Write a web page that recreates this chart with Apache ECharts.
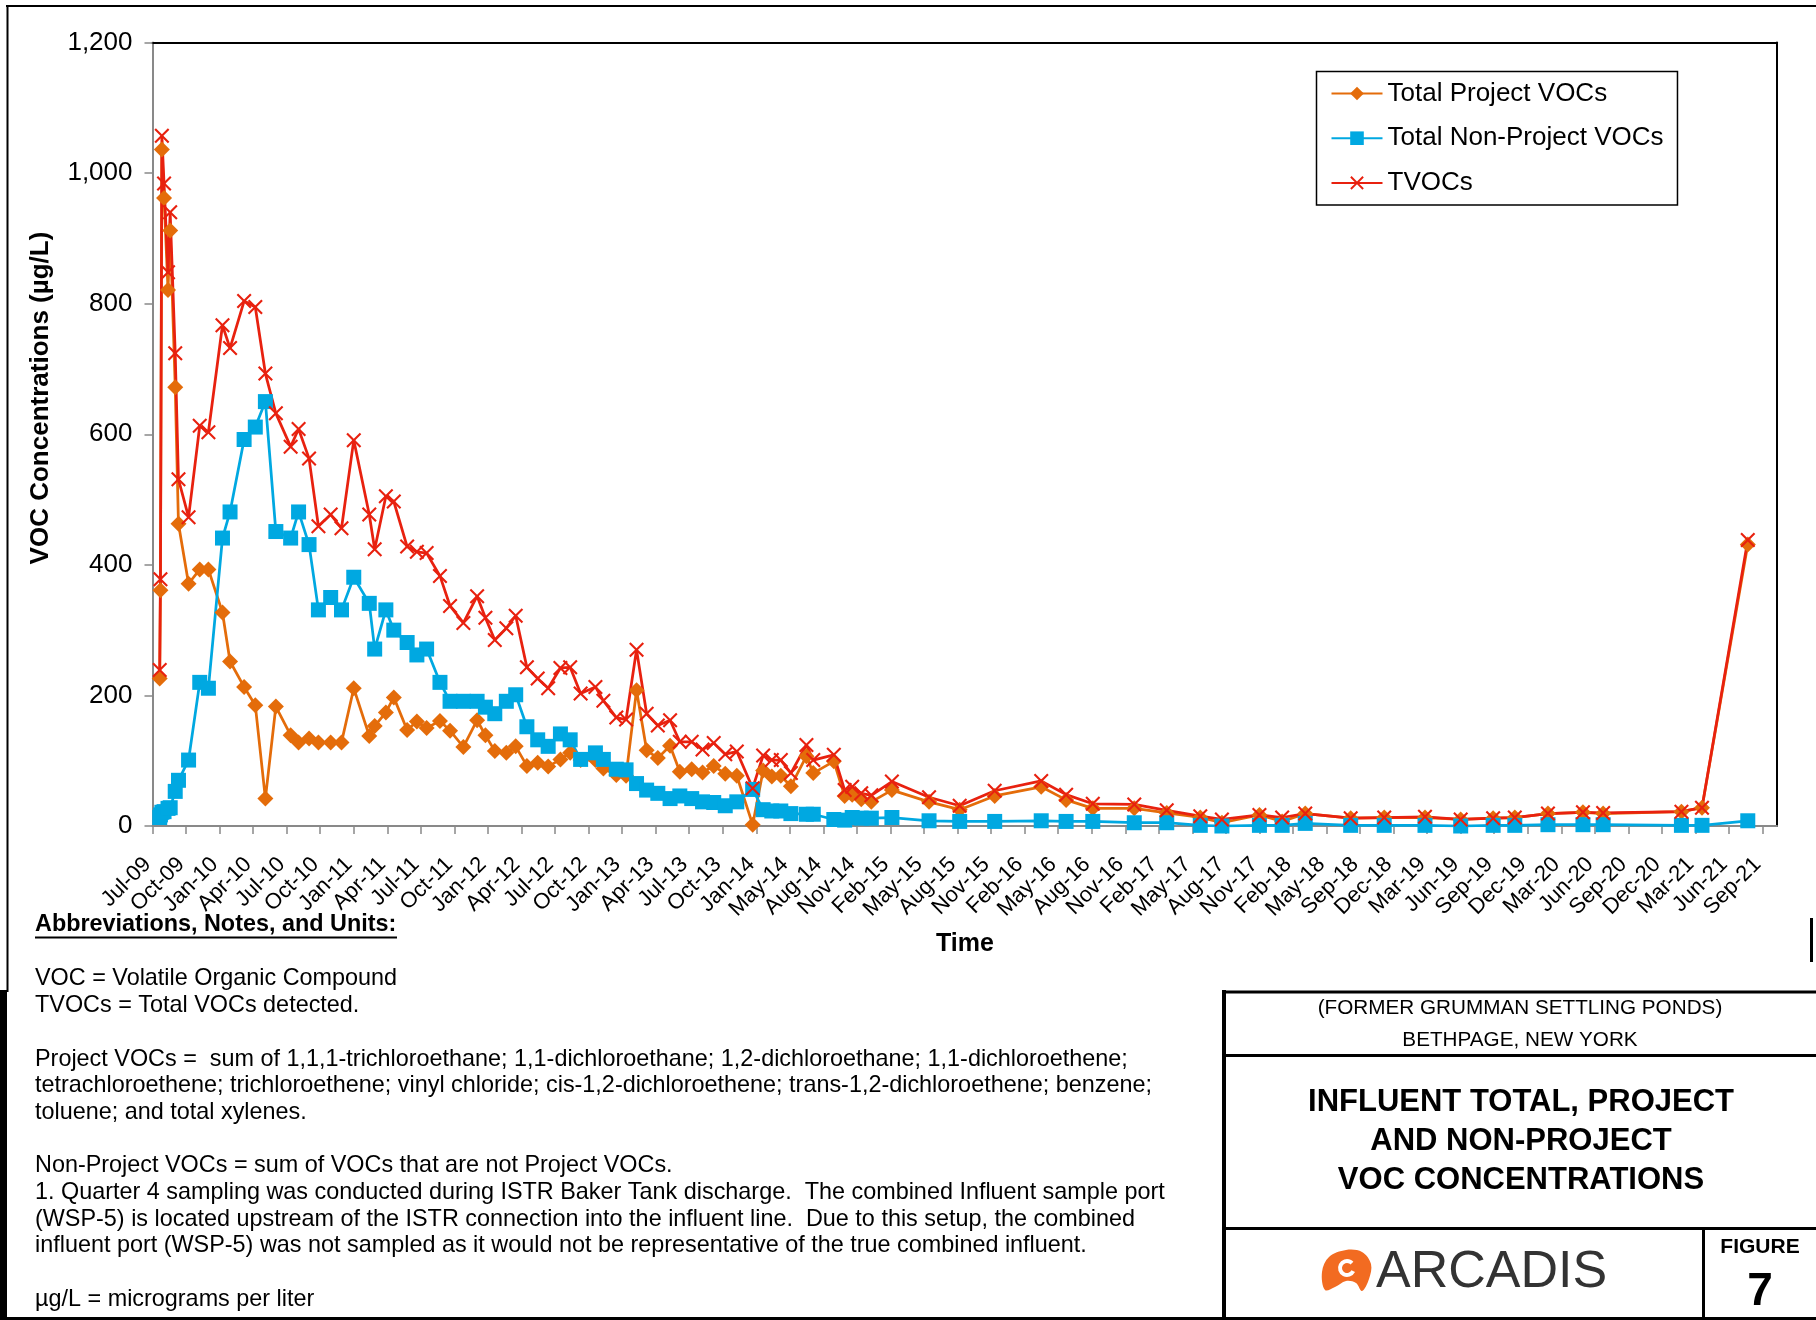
<!DOCTYPE html>
<html>
<head>
<meta charset="utf-8">
<title>Influent Total, Project and Non-Project VOC Concentrations</title>
<script src="https://cdn.jsdelivr.net/npm/echarts@6/dist/echarts.min.js"></script>
<style>
  html, body { margin: 0; padding: 0; background: #fff; }
  #chart { width: 1816px; height: 1320px; }
</style>
</head>
<body>
<div id="chart"></div>
<script>
// sample dates
const DATES = [
  '2009-07-22','2009-07-24','2009-07-28','2009-08-03','2009-08-14','2009-08-20','2009-09-03','2009-09-12','2009-10-10','2009-11-10','2009-12-04',
  '2010-01-12','2010-02-02','2010-03-13','2010-04-13','2010-05-11','2010-06-09','2010-07-20','2010-08-11','2010-09-09','2010-10-05','2010-11-08','2010-12-08',
  '2011-01-11','2011-02-23','2011-03-10','2011-04-10','2011-05-02','2011-06-08','2011-07-05','2011-08-01','2011-09-07','2011-10-05','2011-11-11','2011-12-19',
  '2012-01-11','2012-02-06','2012-03-09','2012-04-04','2012-05-05','2012-06-04','2012-07-03','2012-08-06','2012-09-02','2012-10-01','2012-11-11','2012-12-03',
  '2013-01-08','2013-02-04','2013-03-05','2013-04-02','2013-05-03','2013-06-06','2013-07-03','2013-08-05','2013-09-04','2013-10-05','2013-11-06','2013-12-08',
  '2014-01-21','2014-02-19','2014-03-15','2014-04-09','2014-05-07','2014-06-19','2014-07-08','2014-09-03','2014-10-03','2014-10-24','2014-11-18','2014-12-16',
  '2015-02-11','2015-05-25','2015-08-18','2015-11-23',
  '2016-03-31','2016-06-08','2016-08-21','2016-12-14',
  '2017-03-14','2017-06-15','2017-08-14','2017-11-26',
  '2018-01-28','2018-04-02','2018-08-06','2018-11-07',
  '2019-02-28','2019-06-07','2019-09-05','2019-11-04',
  '2020-02-04','2020-05-11','2020-07-06',
  '2021-02-08','2021-04-06','2021-08-11'
];

// ug/L
const PROJECT_VOCS = [
  226, 361, 1036, 962, 821, 912, 672, 463, 371, 393, 393,
  327, 252, 213, 185, 42, 183, 139, 128, 134, 128, 128, 128,
  211, 138, 153, 174, 197, 147, 160, 150, 161, 146, 121, 162,
  139, 115, 112, 122, 92, 97, 91, 102, 112, 101, 101, 88,
  78, 77, 208, 116, 104, 123, 83, 87, 82, 92, 80, 77,
  2, 85, 76, 77, 61, 107, 81, 99, 46, 48, 41, 37,
  55, 37, 25, 46,
  60, 40, 27, 27,
  20, 13, 5, 17,
  7, 19, 12, 13,
  13, 10, 12, 13,
  19, 21, 19,
  22, 28, 431
];

const NON_PROJECT_VOCS = [
  13, 17, 21, 22, 27, 28, 53, 70, 101, 220, 211,
  441, 481, 592, 611, 650, 451, 441, 481, 431, 331, 350, 331,
  381, 341, 271, 331, 300, 281, 262, 271, 220, 191, 191, 191,
  182, 172, 191, 201, 152, 132, 122, 141, 132, 102, 112, 102,
  87, 86, 65, 55, 50, 42, 46, 42, 37, 36, 31, 37,
  56, 25, 23, 23, 19, 18, 18, 10, 9, 13, 12, 12,
  13, 8, 7, 7,
  8, 7, 7, 5,
  5, 1, 0, 1,
  1, 4, 1, 1,
  1, 0, 1, 1,
  2, 2, 2,
  1, 1, 8
];

const TVOCS = [
  239, 378, 1057, 984, 848, 940, 724, 531, 473, 613, 603,
  767, 732, 804, 795, 693, 632, 581, 608, 563, 459, 477, 456,
  591, 477, 424, 505, 497, 428, 420, 418, 383, 337, 311, 352,
  319, 285, 303, 322, 243, 226, 211, 242, 243, 203, 213, 192,
  166, 163, 270, 172, 154, 162, 129, 129, 117, 127, 110, 114,
  58, 108, 101, 101, 81, 124, 101, 109, 55, 60, 50, 47,
  68, 44, 31, 54,
  69, 48, 34, 33,
  24, 15, 10, 17,
  13, 19, 12, 13,
  14, 10, 12, 13,
  19, 21, 20,
  22, 28, 438
];

// x axis: one tick every 93 days from the axis start
const X_LABELS = [
  'Jul-09','Oct-09','Jan-10','Apr-10','Jul-10','Oct-10','Jan-11','Apr-11','Jul-11','Oct-11',
  'Jan-12','Apr-12','Jul-12','Oct-12','Jan-13','Apr-13','Jul-13','Oct-13','Jan-14','May-14',
  'Aug-14','Nov-14','Feb-15','May-15','Aug-15','Nov-15','Feb-16','May-16','Aug-16','Nov-16',
  'Feb-17','May-17','Aug-17','Nov-17','Feb-18','May-18','Sep-18','Dec-18','Mar-19','Jun-19',
  'Sep-19','Dec-19','Mar-20','Jun-20','Sep-20','Dec-20','Mar-21','Jun-21','Sep-21'
];
const AXIS_START = '2009-07-02';
const AXIS_END = '2021-10-31';
const TICK_DAYS = 93;

const Y_MAX = 1200;
const Y_STEP = 200;

const FONT = '"Liberation Sans", Arial, Helvetica, sans-serif';
const ORANGE = '#E46C0A';
const BLUE = '#00A8E1';
const RED = '#E8210F';
const AXIS_GRAY = '#898989';
const X_MARK = 'path://M0,2 L2,0 L10,8 L18,0 L20,2 L12,10 L20,18 L18,20 L10,12 L2,20 L0,18 L8,10 Z';

function dayOf(s) {
  return (Date.parse(s) - Date.parse(AXIS_START)) / 86400000;
}
function pairs(values) {
  return DATES.map(function (d, i) { return [dayOf(d), values[i]]; });
}

let chart = echarts.init(document.getElementById('chart'));

function lineSeries(name, values, color, symbol, size) {
  return {
    name: name,
    type: 'line',
    data: pairs(values),
    symbol: symbol,
    symbolSize: size,
    showSymbol: true,
    clip: false,
    lineStyle: { color: color, width: 2.75 },
    itemStyle: { color: color },
    emphasis: { disabled: true }
  };
}

// text block helpers
function txt(x, y, text, font, align, fill, rotation) {
  return {
    type: 'text', x: x, y: y, rotation: rotation || 0,
    style: {
      text: text, font: font, fill: fill || '#000',
      textAlign: align || 'left', align: align || 'left',
      textVerticalAlign: 'middle', verticalAlign: 'middle'
    }
  };
}
function hline(x1, x2, y, w) {
  return { type: 'line', shape: { x1: x1, y1: y, x2: x2, y2: y }, style: { stroke: '#000', lineWidth: w } };
}
function vline(x, y1, y2, w) {
  return { type: 'line', shape: { x1: x, y1: y1, x2: x, y2: y2 }, style: { stroke: '#000', lineWidth: w } };
}

const notes = [
  'VOC = Volatile Organic Compound',
  'TVOCs = Total VOCs detected.',
  '',
  'Project VOCs =  sum of 1,1,1-trichloroethane; 1,1-dichloroethane; 1,2-dichloroethane; 1,1-dichloroethene;',
  'tetrachloroethene; trichloroethene; vinyl chloride; cis-1,2-dichloroethene; trans-1,2-dichloroethene; benzene;',
  'toluene; and total xylenes.',
  '',
  'Non-Project VOCs = sum of VOCs that are not Project VOCs.',
  '1. Quarter 4 sampling was conducted during ISTR Baker Tank discharge.  The combined Influent sample port',
  '(WSP-5) is located upstream of the ISTR connection into the influent line.  Due to this setup, the combined',
  'influent port (WSP-5) was not sampled as it would not be representative of the true combined influent.',
  '',
  '\u00b5g/L = micrograms per liter'
];

let graphics = [
  // outer frame
  hline(6, 1816, 6, 2),
  vline(7.5, 5, 992, 2),
  { type: 'rect', shape: { x: 0, y: 990, width: 7, height: 330 }, style: { fill: '#000' } },
  hline(0, 1816, 1318.5, 3),
  { type: 'rect', shape: { x: 1810, y: 918, width: 3, height: 44 }, style: { fill: '#000' } },

  // axis titles
  txt(40.5, 398, 'VOC Concentrations (\u00b5g/L)', 'bold 26px ' + FONT, 'center', '#000', Math.PI / 2),
  txt(965, 944, 'Time', 'bold 25px ' + FONT, 'center'),

  // notes
  txt(35, 925, 'Abbreviations, Notes, and Units:', 'bold 23.4px ' + FONT, 'left'),
  hline(35, 397, 937.5, 2),
  {
    type: 'text', x: 35, y: 965.6,
    style: {
      text: notes.join('\n'), font: '23.4px ' + FONT, fill: '#000', lineHeight: 26.7,
      textAlign: 'left', align: 'left', textVerticalAlign: 'top', verticalAlign: 'top'
    }
  },

  // title block
  vline(1224, 990, 1320, 4),
  hline(1222, 1816, 992, 3),
  hline(1224, 1816, 1055.5, 3),
  hline(1224, 1816, 1228.5, 3),
  vline(1703.5, 1228, 1320, 3),
  txt(1520, 1008, '(FORMER GRUMMAN SETTLING PONDS)', '20.7px ' + FONT, 'center'),
  txt(1520, 1040.5, 'BETHPAGE, NEW YORK', '20.7px ' + FONT, 'center'),
  txt(1521, 1102.5, 'INFLUENT TOTAL, PROJECT', 'bold 31px ' + FONT, 'center'),
  txt(1521, 1141.5, 'AND NON-PROJECT', 'bold 31px ' + FONT, 'center'),
  txt(1521, 1180, 'VOC CONCENTRATIONS', 'bold 31px ' + FONT, 'center'),
  // logo
  {
    type: 'polygon',
    shape: {
      points: [[1325, 1290], [1322, 1272], [1329, 1257], [1346, 1250], [1362, 1252], [1371, 1264],
               [1369, 1279], [1362, 1291], [1356, 1283], [1346, 1281], [1335, 1287]],
      smooth: 0.35
    },
    style: { fill: '#F26B21' }
  },
  {
    type: 'arc',
    shape: { cx: 1347, cy: 1268, r: 7, startAngle: Math.PI * 0.15, endAngle: Math.PI * 1.75, clockwise: true },
    style: { stroke: '#fff', lineWidth: 4, fill: 'none' }
  },
  txt(1376, 1273, 'ARCADIS', '52px ' + FONT, 'left', '#333'),
  txt(1760, 1247, 'FIGURE', 'bold 21px ' + FONT, 'center'),
  txt(1760, 1292, '7', 'bold 46px ' + FONT, 'center')
];

const TICK_VALUES = X_LABELS.map(function (l, i) { return i * TICK_DAYS; });

chart.setOption({
  animation: false,
  backgroundColor: '#fff',
  textStyle: { fontFamily: FONT },
  grid: { left: 152.5, right: 39, top: 42.5, bottom: 494, show: false },
  legend: {
    data: ['Total Project VOCs', 'Total Non-Project VOCs', 'TVOCs'],
    orient: 'vertical',
    left: 1316.5,
    top: 71.5,
    padding: [9, 14, 9, 14],
    itemGap: 18.7,
    itemWidth: 51,
    itemHeight: 17,
    backgroundColor: '#fff',
    borderColor: '#000',
    borderWidth: 1.5,
    textStyle: { fontSize: 26, color: '#000', fontFamily: FONT }
  },
  xAxis: [{
    type: 'value',
    min: 0,
    max: dayOf(AXIS_END),
    interval: TICK_DAYS,
    axisLine: { show: true, onZero: false, lineStyle: { color: AXIS_GRAY, width: 2 } },
    axisTick: {
      show: true, length: 8, lineStyle: { color: AXIS_GRAY, width: 1.5 },
      customValues: TICK_VALUES
    },
    splitLine: { show: false },
    axisLabel: {
      rotate: 45,
      margin: 30,
      padding: [0, 7, 0, 0],
      fontSize: 22,
      color: '#000',
      fontFamily: FONT,
      customValues: TICK_VALUES,
      formatter: function (v) {
        let i = Math.round(v / TICK_DAYS);
        return (Math.abs(v - i * TICK_DAYS) < 0.01 && X_LABELS[i]) ? X_LABELS[i] : '';
      }
    }
  }, {
    type: 'value',
    position: 'top',
    min: 0,
    max: dayOf(AXIS_END),
    axisLine: { show: true, onZero: false, lineStyle: { color: '#000', width: 2 } },
    axisTick: { show: false },
    axisLabel: { show: false },
    splitLine: { show: false }
  }],
  yAxis: [{
    type: 'value',
    min: 0,
    max: Y_MAX,
    interval: Y_STEP,
    axisLine: { show: true, onZero: false, lineStyle: { color: AXIS_GRAY, width: 2 } },
    axisTick: { show: true, length: 8, lineStyle: { color: AXIS_GRAY, width: 1.5 } },
    splitLine: { show: false },
    axisLabel: {
      margin: 20,
      fontSize: 26,
      color: '#000',
      fontFamily: FONT,
      formatter: function (v) { return v.toLocaleString('en-US'); }
    }
  }, {
    type: 'value',
    position: 'right',
    min: 0,
    max: Y_MAX,
    axisLine: { show: true, onZero: false, lineStyle: { color: '#000', width: 2 } },
    axisTick: { show: false },
    axisLabel: { show: false },
    splitLine: { show: false }
  }],
  series: [
    lineSeries('Total Project VOCs', PROJECT_VOCS, ORANGE, 'diamond', 16),
    lineSeries('Total Non-Project VOCs', NON_PROJECT_VOCS, BLUE, 'rect', 15),
    lineSeries('TVOCs', TVOCS, RED, X_MARK, 15)
  ],
  graphic: graphics
});

window.addEventListener('resize', function () {
  chart.resize();
});
</script>
</body>
</html>
